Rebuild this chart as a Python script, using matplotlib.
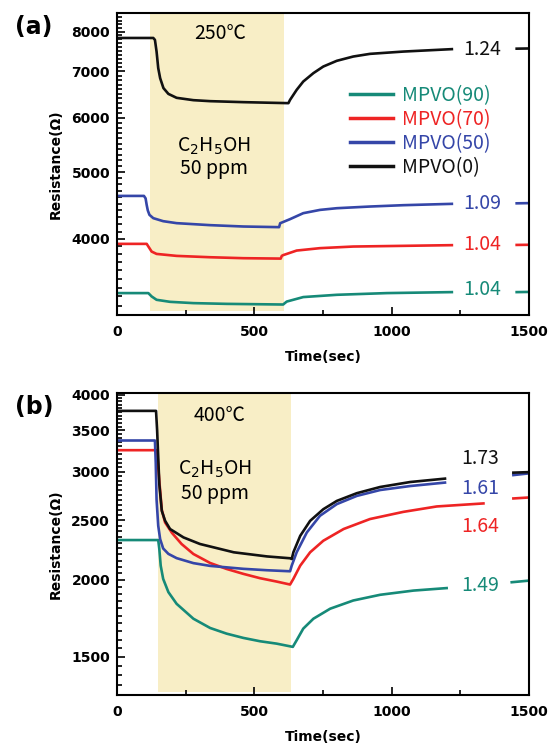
import numpy as np
import matplotlib
matplotlib.use('Agg')
import matplotlib.pyplot as plt
from matplotlib.ticker import FixedLocator, NullFormatter

nan = np.nan

# ---- panel (a) 250C ----
a_window = [120, 608]
a_t_90 = [0, 114, 126, 144, 193, 278, 399, 605, 610, 618, 678, 800, 982, 1219, nan, 1455, 1500]
a_r_90 = [3337, 3337, 3300, 3263, 3241, 3227, 3219, 3212, 3225, 3244, 3293, 3318, 3337, 3348, nan, 3348, 3350]
a_t_70 = [0, 108, 118, 126, 144, 217, 339, 460, 596, 600, 606, 654, 739, 860, 1042, 1219, nan, 1455, 1500]
a_r_70 = [3934, 3934, 3878, 3834, 3804, 3779, 3762, 3750, 3745, 3780, 3790, 3847, 3878, 3899, 3908, 3917, nan, 3920, 3922]
a_t_50 = [0, 98, 104, 108, 112, 118, 132, 168, 217, 339, 460, 590, 594, 630, 678, 739, 800, 921, 1042, 1219, nan, 1455, 1500]
a_r_50 = [4618, 4618, 4580, 4480, 4400, 4335, 4287, 4244, 4216, 4188, 4169, 4160, 4215, 4273, 4359, 4407, 4432, 4457, 4477, 4497, nan, 4505, 4508]
a_t_0 = [0, 132, 138, 144, 150, 157, 169, 187, 217, 278, 339, 460, 560, 624, 630, 654, 678, 715, 751, 800, 860, 921, 1042, 1219, nan, 1455, 1500]
a_r_0 = [7830, 7830, 7780, 7480, 7080, 6845, 6622, 6495, 6410, 6360, 6339, 6318, 6305, 6297, 6367, 6583, 6769, 6962, 7117, 7254, 7359, 7425, 7482, 7543, nan, 7555, 7560]
a_ratio = ['1.04', '1.04', '1.09', '1.24']

# ---- panel (b) 400C ----
b_window = [150, 632]
b_t_90 = [0, 150, 154, 159, 168, 187, 217, 278, 339, 399, 460, 521, 581, 640, 654, 678, 715, 776, 860, 958, 1079, 1200, nan, 1437, 1500]
b_r_90 = [2322, 2322, 2245, 2110, 2008, 1911, 1829, 1730, 1671, 1636, 1610, 1590, 1576, 1557, 1596, 1667, 1730, 1796, 1852, 1892, 1922, 1940, nan, 1983, 1995]
b_t_70 = [0, 146, 150, 155, 163, 175, 200, 235, 278, 339, 399, 460, 521, 581, 630, 642, 667, 703, 751, 825, 921, 1042, 1164, 1334, nan, 1443, 1500]
b_r_70 = [3250, 3250, 3050, 2861, 2600, 2480, 2385, 2288, 2204, 2131, 2084, 2046, 2013, 1988, 1966, 2008, 2110, 2218, 2316, 2420, 2512, 2580, 2633, 2663, nan, 2713, 2723]
b_t_50 = [0, 138, 141, 144, 150, 157, 168, 187, 217, 278, 339, 460, 546, 630, 636, 654, 691, 739, 800, 873, 958, 1067, 1194, nan, 1443, 1500]
b_r_50 = [3370, 3370, 3100, 2700, 2450, 2330, 2250, 2205, 2170, 2130, 2108, 2085, 2074, 2066, 2110, 2218, 2389, 2543, 2656, 2739, 2800, 2842, 2879, nan, 2961, 2980]
b_t_0 = [0, 142, 146, 154, 163, 175, 193, 242, 302, 425, 546, 630, 636, 642, 667, 703, 751, 800, 873, 958, 1067, 1194, nan, 1443, 1500]
b_r_0 = [3765, 3765, 3500, 2861, 2590, 2496, 2420, 2345, 2288, 2218, 2184, 2169, 2163, 2218, 2359, 2495, 2606, 2688, 2767, 2832, 2885, 2922, nan, 2988, 2994]
b_ratio = ['1.49', '1.64', '1.61', '1.73']

names = ['MPVO(90)', 'MPVO(70)', 'MPVO(50)', 'MPVO(0)']
colors = ['#168a78', '#ee2424', '#3546a8', '#111111']

cjk = ['Noto Sans CJK KR', 'DejaVu Sans']
plt.rcParams['font.family'] = ['DejaVu Sans']
plt.rcParams['axes.linewidth'] = 1.5


def style_axes(ax, ylim, major, minor):
    ax.set_yscale('log')
    ax.set_xlim(0, 1500)
    ax.set_ylim(*ylim)
    ax.yaxis.set_major_locator(FixedLocator(major))
    ax.yaxis.set_minor_locator(FixedLocator(minor))
    ax.yaxis.set_major_formatter(plt.FuncFormatter(lambda v, p: '%d' % v))
    ax.yaxis.set_minor_formatter(NullFormatter())
    ax.set_xticks([0, 500, 1000, 1500])
    ax.set_xticks([250, 750, 1250], minor=True)
    ax.tick_params(which='both', direction='in', top=False, right=False, width=1.2)
    ax.tick_params(which='major', length=6)
    ax.tick_params(which='minor', length=3.5)
    ax.tick_params(axis='x', pad=7)
    ax.tick_params(axis='y', pad=5)
    for lab in ax.get_xticklabels() + ax.get_yticklabels():
        lab.set_fontweight('bold')
        lab.set_fontsize(10)
    ax.set_xlabel('Time(sec)', fontsize=10, fontweight='bold', labelpad=8)
    ax.set_ylabel('Resistance(Ω)', fontsize=10, fontweight='bold', labelpad=6)


fig = plt.figure(figsize=(5.52, 7.45), dpi=100)
ax1 = fig.add_axes([0.212, 0.577, 0.7464, 0.405])
ax2 = fig.add_axes([0.212, 0.067, 0.7464, 0.405])

# (a)
ax1.axvspan(a_window[0], a_window[1], ymin=0.014, ymax=1, color='#f8eec6', lw=0, zorder=0)
for t, r, c, n in zip([a_t_90, a_t_70, a_t_50, a_t_0], [a_r_90, a_r_70, a_r_50, a_r_0], colors, names):
    ax1.plot(t, r, color=c, lw=1.9, label=n)
style_axes(ax1, (3100, 8500), [4000, 5000, 6000, 7000, 8000],
           [v for v in range(3100, 8500, 100) if v % 1000])
a_lab_pos = [(1330, 3381), (1330, 3922), (1330, 4508), (1330, 7525)]
for (x, y), s, c in zip(a_lab_pos, a_ratio, colors):
    ax1.text(x, y, s, color=c, fontsize=14, family=cjk, ha='center', va='center')
ax1.text(0.25, 0.935, '250℃', transform=ax1.transAxes, fontsize=14, family=cjk, ha='center', va='center')
ax1.text(0.235, 0.558, r'C$_2$H$_5$OH', transform=ax1.transAxes, fontsize=14, family=cjk, ha='center', va='center')
ax1.text(0.235, 0.486, '50 ppm', transform=ax1.transAxes, fontsize=14, family=cjk, ha='center', va='center')
leg = ax1.legend(loc='upper left', bbox_to_anchor=(0.543, 0.795), frameon=False,
                 labelcolor='linecolor', handlelength=2.2, handletextpad=0.45,
                 labelspacing=0.15, borderpad=0, prop={'family': cjk, 'size': 14})
for h in leg.legend_handles:
    h.set_linewidth(2.5)

# (b)
ax2.axvspan(b_window[0], b_window[1], ymin=0.011, ymax=1, color='#f8eec6', lw=0, zorder=0)
for t, r, c, n in zip([b_t_90, b_t_70, b_t_50, b_t_0], [b_r_90, b_r_70, b_r_50, b_r_0], colors, names):
    ax2.plot(t, r, color=c, lw=1.9, label=n)
style_axes(ax2, (1300, 4020), [1500, 2000, 2500, 3000, 3500, 4000],
           [v for v in range(1300, 4020, 50) if v % 500])
b_lab_pos = [(1322, 1959), (1322, 2443), (1324, 2815), (1322, 3148)]
for (x, y), s, c in zip(b_lab_pos, b_ratio, colors):
    ax2.text(x, y, s, color=c, fontsize=14, family=cjk, ha='center', va='center')
ax2.text(0.25, 0.928, '400℃', transform=ax2.transAxes, fontsize=14, family=cjk, ha='center', va='center')
ax2.text(0.237, 0.748, r'C$_2$H$_5$OH', transform=ax2.transAxes, fontsize=14, family=cjk, ha='center', va='center')
ax2.text(0.237, 0.669, '50 ppm', transform=ax2.transAxes, fontsize=14, family=cjk, ha='center', va='center')

fig.text(0.0616, 0.9644, '(a)', fontsize=17, fontweight='bold', ha='center', va='center')
fig.text(0.0616, 0.454, '(b)', fontsize=17, fontweight='bold', ha='center', va='center')

fig.savefig('out.png', dpi=100)
